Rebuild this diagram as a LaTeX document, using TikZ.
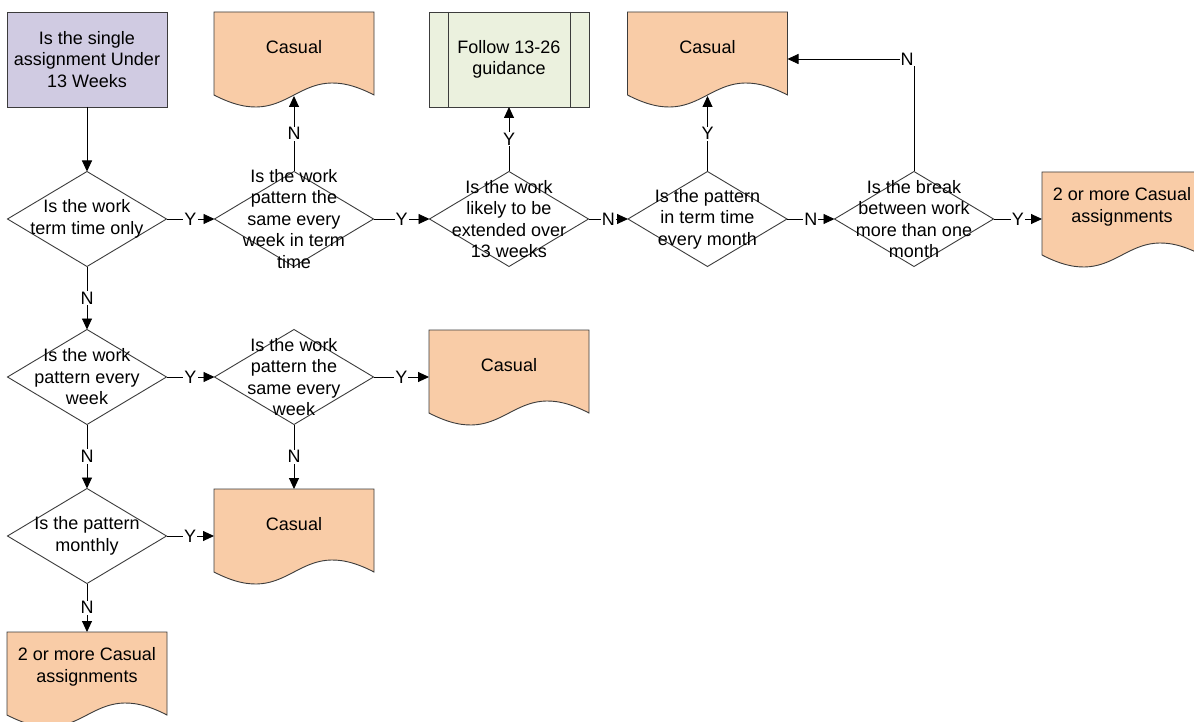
\documentclass[tikz,border=0pt]{standalone}
\usepackage{fontspec}
\setmainfont{Liberation Sans}
\usetikzlibrary{shapes.geometric,arrows.meta,calc}
\definecolor{lav}{RGB}{208,203,226}
\definecolor{peach}{RGB}{249,204,167}
\definecolor{pale}{RGB}{235,241,222}
\definecolor{edgec}{RGB}{60,60,60}
\tikzset{
  shapeline/.style={draw=edgec, line width=0.9pt},
  procbox/.style={rectangle, shapeline, fill=lav, minimum width=160pt, minimum height=95pt, inner sep=0pt, outer sep=0pt, align=center},
  predef/.style={rectangle, shapeline, fill=pale, minimum width=160pt, minimum height=95pt, inner sep=0pt, outer sep=0pt, align=center},
  dia/.style={diamond, shapeline, fill=white, minimum width=159pt, minimum height=95pt, inner sep=0pt, outer sep=0pt},
  doctext/.style={align=center, inner sep=0pt},
  arr/.style={draw=black, line width=0.9pt, -{Triangle[length=11pt,width=10pt]}},
  lbl/.style={fill=white, inner sep=1pt}
}
% #1 name, #2 left x, #3 top y, #4 text
\newcommand\docbox[4]{%
  \filldraw[shapeline, fill=peach] (#2+160,#3+83) .. controls (#2+80,#3+83-41.6) and (#2+80,#3+83+41.6) .. (#2,#3+83) -- (#2,#3) -- (#2+160,#3) -- cycle;
  \node[doctext] (#1) at (#2+80,#3+35) {#4};
  \coordinate (#1-l) at (#2,#3+47);
  \coordinate (#1-r) at (#2+160,#3+47);
  \coordinate (#1-t) at (#2+80,#3);
  \coordinate (#1-b) at (#2+80,#3+84);
}
\begin{document}
\begin{tikzpicture}[x=1pt, y=-1pt, font=\fontsize{18}{21.5}\selectfont]
\fill[white] (0,0) rectangle (1194,722);
\useasboundingbox (0,0) rectangle (1194,722);

% top row
\node[procbox] (start) at (87,59.5) {Is the single\\assignment Under\\13 Weeks};
\docbox{c1}{214}{12}{Casual}
\node[predef] (p) at (509,59.5) {Follow 13-26\\guidance};
\draw[shapeline] ([xshift=19pt]p.north west) -- ([xshift=19pt]p.south west);
\draw[shapeline] ([xshift=-19pt]p.north east) -- ([xshift=-19pt]p.south east);
\docbox{c2}{627.5}{12}{Casual}

% row 1 diamonds
\node[dia, label={[align=center]center:Is the work\\term time only}] (d1) at (87,219) {};
\node[dia, label={[align=center]center:Is the work\\pattern the\\same every\\week in term\\time}] (d2) at (294,219) {};
\node[dia, label={[align=center]center:Is the work\\likely to be\\extended over\\13 weeks}] (d3) at (509,219) {};
\node[dia, label={[align=center]center:Is the pattern\\in term time\\every month}] (d4) at (707.5,219) {};
\node[dia, label={[align=center]center:Is the break\\between work\\more than one\\month}] (d5) at (914,219) {};
\docbox{c6}{1042}{172}{2 or more Casual\\assignments}

% row 2
\node[dia, label={[align=center]center:Is the work\\pattern every\\week}] (d6) at (87,377) {};
\node[dia, label={[align=center]center:Is the work\\pattern the\\same every\\week}] (d7) at (294,377) {};
\docbox{c3}{429}{330}{Casual}

% row 3
\node[dia, label={[align=center]center:Is the pattern\\monthly}] (d8) at (87,536) {};
\docbox{c4}{214}{489}{Casual}

% row 4
\docbox{c5}{7}{632}{2 or more Casual\\assignments}

% connectors
\draw[arr] (start.south) -- (d1.north);
\draw[arr] (d1.east) -- node[lbl]{Y} (d2.west);
\draw[arr] (d2.north) -- node[lbl]{N} (c1-b);
\draw[arr] (d2.east) -- node[lbl]{Y} (d3.west);
\draw[arr] (d3.north) -- node[lbl]{Y} (p.south);
\draw[arr] (d3.east) -- node[lbl]{N} (d4.west);
\draw[arr] (d4.north) -- node[lbl]{Y} (c2-b);
\draw[arr] (d4.east) -- node[lbl]{N} (d5.west);
\draw[arr] (d5.north) |- node[lbl, pos=0.5, xshift=-7pt]{N} (c2-r);
\draw[arr] (d5.east) -- node[lbl]{Y} (c6-l);
\draw[arr] (d1.south) -- node[lbl]{N} (d6.north);
\draw[arr] (d6.east) -- node[lbl]{Y} (d7.west);
\draw[arr] (d7.east) -- node[lbl]{Y} (c3-l);
\draw[arr] (d7.south) -- node[lbl]{N} (c4-t);
\draw[arr] (d6.south) -- node[lbl]{N} (d8.north);
\draw[arr] (d8.east) -- node[lbl]{Y} (c4-l);
\draw[arr] (d8.south) -- node[lbl]{N} (c5-t);
\end{tikzpicture}
\end{document}
